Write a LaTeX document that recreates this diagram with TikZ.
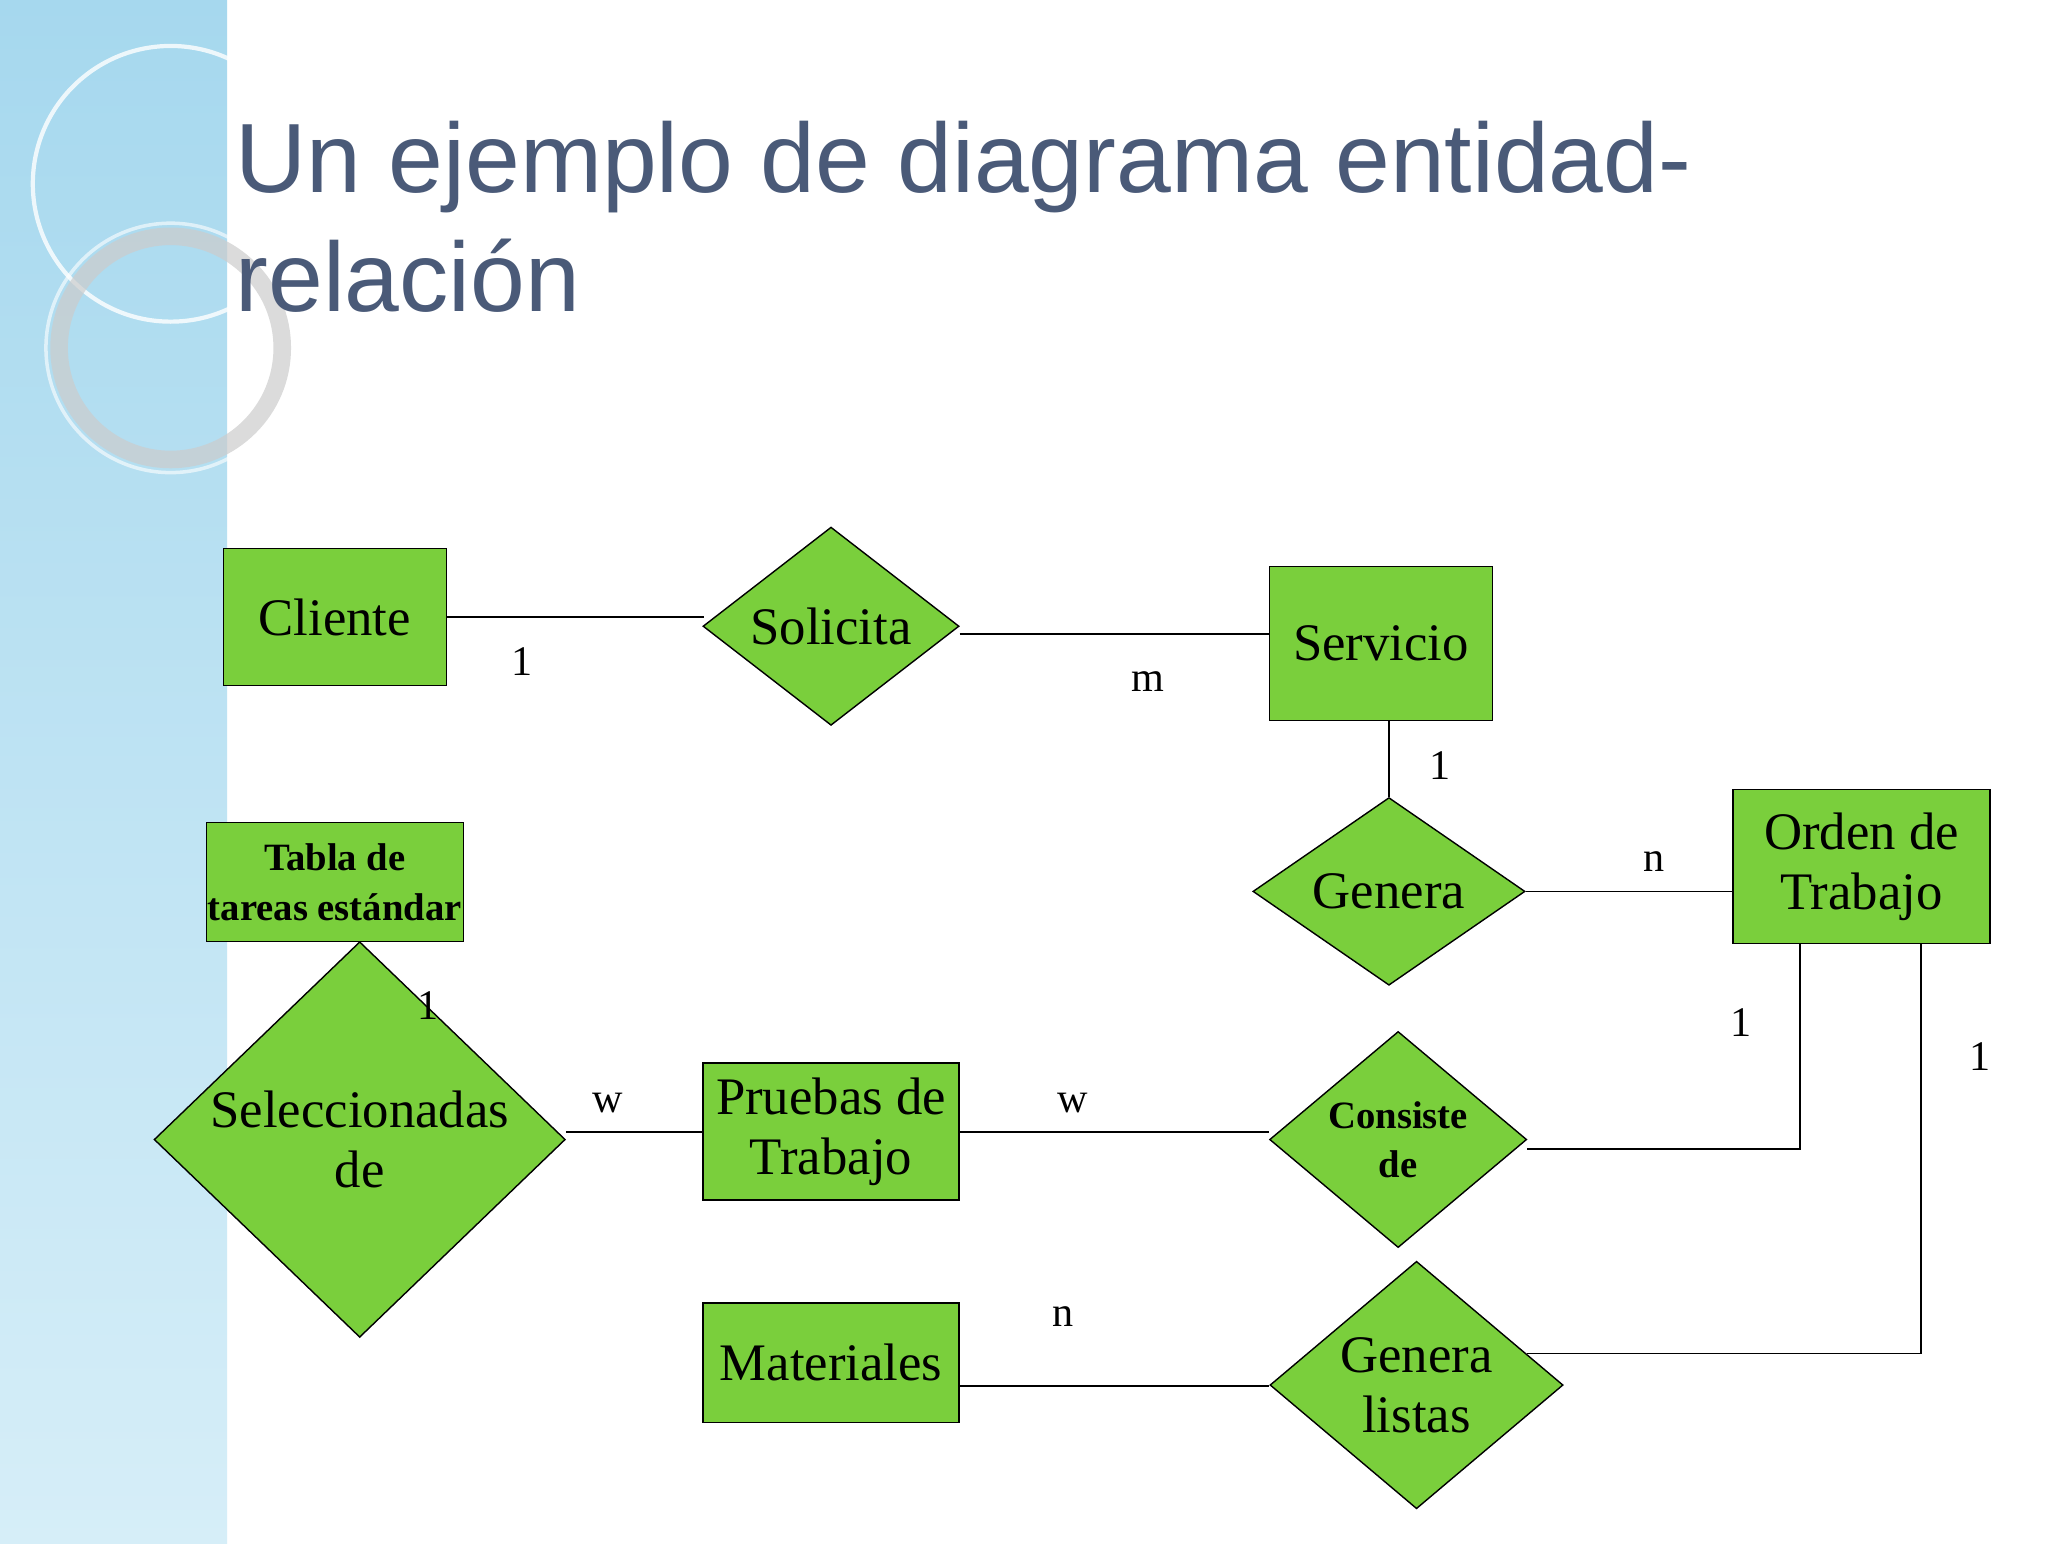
\documentclass[tikz,border=0pt]{standalone}
\usepackage{fontspec}
\setmainfont{Liberation Serif}
\newfontfamily\titlefont{Liberation Sans}
\usetikzlibrary{shapes.geometric}
\definecolor{ergreen}{HTML}{7ACF3C}
\definecolor{titleblue}{HTML}{4A5A78}
\definecolor{stripA}{HTML}{A6D8EE}
\definecolor{stripB}{HTML}{D6EEF8}
\tikzset{
 ent/.style={draw=black, fill=ergreen, rectangle, inner sep=0pt, align=center, font=\fontsize{15}{17}\selectfont},
 rel/.style={draw=black, fill=ergreen, diamond, inner sep=0pt, align=center, font=\fontsize{15}{17}\selectfont},
 lbl/.style={font=\fontsize{12}{14}\selectfont},
 conn/.style={draw=black, line width=0.5pt}
}
\begin{document}
\begin{tikzpicture}[x=0.01313cm,y=-0.01313cm]
\useasboundingbox (0,0) rectangle (1560,1176);
\fill[white] (0,0) rectangle (1560,1176);
\shade[top color=stripA, bottom color=stripB] (0,0) rectangle (173,1176);
\draw[white, opacity=0.8, line width=1.2pt] (130,140) circle (105);
\draw[gray!40, opacity=0.7, line width=5pt] (130,265) circle (85);
\draw[white, opacity=0.6, line width=1pt] (130,265) circle (95);
% title
\node[anchor=west, text=titleblue, font=\titlefont\fontsize{28}{34}\selectfont, align=left] (title) at (170,165) {Un ejemplo de diagrama entidad-\\relación};
% nodes
\node[ent, minimum width=2.23cm, minimum height=1.37cm] (cli) at (255,470) {Cliente};
\node[rel, minimum width=2.56cm, minimum height=1.88cm] (sol) at (633,477) {Solicita};
\node[ent, minimum width=2.23cm, minimum height=1.54cm] (ser) at (1052,490) {Servicio};
\node[rel, minimum width=2.72cm, minimum height=1.71cm] (gen) at (1058,679) {Genera};
\node[ent, minimum width=2.57cm, minimum height=1.54cm] (ord) at (1418,660) {Orden de\\Trabajo};
\node[ent, minimum width=2.57cm, minimum height=1.19cm, font=\bfseries\fontsize{11}{14}\selectfont] (tab) at (255,672) {Tabla de\\tareas estándar};
\node[rel, minimum width=4.11cm, minimum height=2.22cm] (sel) at (274,868) {Seleccionadas\\de};
\node[ent, minimum width=2.56cm, minimum height=1.37cm] (pru) at (633,862) {Pruebas de\\Trabajo};
\node[rel, minimum width=2.57cm, minimum height=1.88cm, font=\bfseries\fontsize{11}{14}\selectfont] (con) at (1065,868) {Consiste\\de};
\node[ent, minimum width=2.56cm, minimum height=1.19cm] (mat) at (633,1038) {Materiales};
\node[rel, minimum width=2.93cm, minimum height=1.97cm] (gl) at (1079,1055) {Genera\\listas};
% connectors
\coordinate (c1) at (536,470);
\draw[conn] (cli.east |- c1) -- (c1);
\coordinate (c2) at (731,483);
\draw[conn] (c2) -- (ser.west |- c2);
\draw[conn] (ser.south -| gen.north) -- (gen.north);
\draw[conn] (gen.east) -- (ord.west |- gen.east);
\coordinate (o1) at (1371,875);
\coordinate (o1c) at (1163,875);
\draw[conn] (ord.south -| o1) -- (o1) -- (o1c);
\coordinate (o2) at (1463,1031);
\coordinate (o2c) at (1163,1031);
\draw[conn] (ord.south -| o2) -- (o2) -- (o2c);
\draw[conn] (tab.south -| sel.north) -- (sel.north);
\draw[conn] (sel.east |- pru.west) -- (pru.west);
\draw[conn] (pru.east) -- (con.west |- pru.east);
\coordinate (m1) at (731,1056);
\draw[conn] (m1) -- (gl.west |- m1);
% labels
\node[lbl] (l1) at (398,504) {1};
\node[lbl] (l2) at (874,519) {m};
\node[lbl] (l3) at (1097,583) {1};
\node[lbl] (l4) at (1260,656) {n};
\node[lbl] (l5) at (326,766) {1};
\node[lbl] (l6) at (1326,779) {1};
\node[lbl] (l7) at (1508,805) {1};
\node[lbl] (l8) at (463,840) {w};
\node[lbl] (l9) at (817,840) {w};
\node[lbl] (l10) at (810,1003) {n};
\end{tikzpicture}
\end{document}
